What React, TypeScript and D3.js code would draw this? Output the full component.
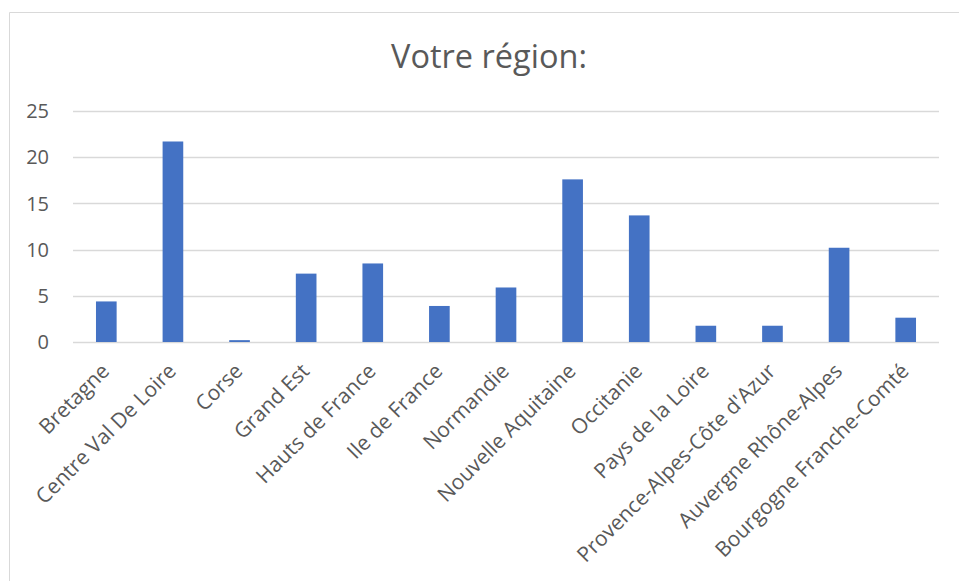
import * as d3 from "d3";

const regions = [
  "Bretagne",
  "Centre Val De Loire",
  "Corse",
  "Grand Est",
  "Hauts de France",
  "Ile de France",
  "Normandie",
  "Nouvelle Aquitaine",
  "Occitanie",
  "Pays de la Loire",
  "Provence-Alpes-Côte d'Azur",
  "Auvergne Rhône-Alpes",
  "Bourgogne Franche-Comté",
];
const values = [4.39, 21.7, 0.2, 7.4, 8.5, 3.9, 5.9, 17.6, 13.7, 1.76, 1.76, 10.2, 2.63];
const yTicks = [0, 5, 10, 15, 20, 25];

const W = 959;
const H = 581;
const font = "'Open Sans', sans-serif";
const textColor = "#595959";

export default function App() {
  const margin = { top: 111, right: 20, bottom: 239, left: 73 };
  const x = d3
    .scaleBand()
    .domain(regions)
    .range([margin.left, W - margin.right])
    .paddingInner(0.69)
    .paddingOuter(0.345);
  const y = d3.scaleLinear().domain([0, 25]).range([H - margin.bottom, margin.top]);

  return (
    <svg
      width={W}
      height={H}
      style={{ position: "absolute", left: 0, top: 0, background: "#fff" }}
    >
      <rect x={0} y={0} width={W} height={H} fill="#fff" />
      {/* chart frame: only left and top edges visible */}
      <path d={`M9.5,${H + 5} V12.5 H${W + 5}`} fill="none" stroke="#d9d9d9" strokeWidth={1} />

      <text
        x={489}
        y={68}
        textAnchor="middle"
        fontFamily={font}
        fontSize={32.5}
        fill={textColor}
      >
        Votre région:
      </text>

      {yTicks.map((t) => (
        <g key={t}>
          <line
            x1={margin.left}
            x2={W - margin.right}
            y1={Math.round(y(t)) + 0.5}
            y2={Math.round(y(t)) + 0.5}
            stroke="#d9d9d9"
            strokeWidth={1.5}
          />
          <text
            x={49}
            y={y(t)}
            dy="0.36em"
            textAnchor="end"
            fontFamily={font}
            fontSize={20}
            fill={textColor}
          >
            {t}
          </text>
        </g>
      ))}

      {regions.map((r, i) => (
        <rect
          key={r}
          x={x(r)}
          y={y(values[i])}
          width={x.bandwidth()}
          height={y(0) - y(values[i])}
          fill="#4472c4"
        />
      ))}

      {regions.map((r) => {
        const cx = (x(r) ?? 0) + x.bandwidth() / 2;
        return (
          <text
            key={r}
            transform={`translate(${cx - 6},${y(0) + 20}) rotate(-45)`}
            textAnchor="end"
            dy="0.7em"
            fontFamily={font}
            fontSize={21}
            fill={textColor}
          >
            {r}
          </text>
        );
      })}
    </svg>
  );
}
